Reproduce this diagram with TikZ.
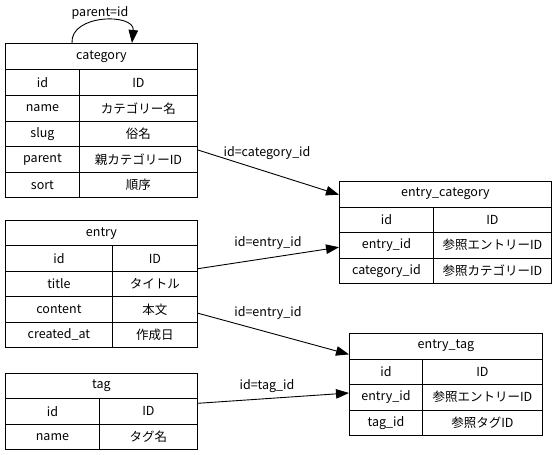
\documentclass[tikz,border=0pt]{standalone}
\usepackage{fontspec}
\setmainfont{Noto Sans CJK JP}
\usetikzlibrary{arrows.meta,calc}

\tikzset{
  cell/.style={draw, line width=0.9pt, inner sep=0pt, anchor=north west,
    font=\fontsize{12.5}{14}\selectfont},
  rel/.style={line width=0.9pt, -{Triangle[length=13pt,width=9.5pt]}},
  rellabel/.style={font=\fontsize{12.5}{14}\selectfont, inner sep=0pt}
}

% header cell: name, x, y, width, height, text
\newcommand\tblhead[6]{%
  \node[cell, minimum width=#4pt, minimum height=#5pt] (#1) at (#2,#3) {#6};}
% field row: prefix, x, y, left width, right width, height, field, type
\newcommand\tblrow[8]{%
  \node[cell, minimum width=#4pt, minimum height=#6pt] (#1k) at (#2,#3) {#7};
  \node[cell, minimum width=#5pt, minimum height=#6pt] (#1v) at (#2+#4,#3) {#8};}

\begin{document}
\begin{tikzpicture}[x=1pt,y=-1pt]
\useasboundingbox (0,0) rectangle (557,455);

% category
\tblhead{cathead}{5}{43}{192}{26}{category}
\tblrow{catid}{5}{69}{74}{118}{26}{id}{ID}
\tblrow{catname}{5}{95}{74}{118}{25.5}{name}{カテゴリー名}
\tblrow{catslug}{5}{120.5}{74}{118}{25.5}{slug}{俗名}
\tblrow{catparent}{5}{146}{74}{118}{26}{parent}{親カテゴリーID}
\tblrow{catsort}{5}{172}{74}{118}{25}{sort}{順序}

% entry
\tblhead{enthead}{5}{220}{192}{25.4}{entry}
\tblrow{entid}{5}{245.4}{107}{85}{25.4}{id}{ID}
\tblrow{enttitle}{5}{270.8}{107}{85}{25.4}{title}{タイトル}
\tblrow{entcontent}{5}{296.2}{107}{85}{25.4}{content}{本文}
\tblrow{entcreated}{5}{321.6}{107}{85}{25.4}{created\_at}{作成日}

% tag
\tblhead{taghead}{5}{373}{192}{25.3}{tag}
\tblrow{tagid}{5}{398.3}{94}{98}{25.3}{id}{ID}
\tblrow{tagname}{5}{423.6}{94}{98}{25.4}{name}{タグ名}

% entry_category
\tblhead{echead}{339}{181}{212}{25.5}{entry\_category}
\tblrow{ecid}{339}{206.5}{94}{118}{25.5}{id}{ID}
\tblrow{ecentry}{339}{232}{94}{118}{25.5}{entry\_id}{参照エントリーID}
\tblrow{eccat}{339}{257.5}{94}{118}{25.5}{category\_id}{参照カテゴリーID}

% entry_tag
\tblhead{ethead}{349}{333}{193}{25.5}{entry\_tag}
\tblrow{etid}{349}{358.5}{73}{120}{25.5}{id}{ID}
\tblrow{etentry}{349}{384}{73}{120}{25.5}{entry\_id}{参照エントリーID}
\tblrow{ettag}{349}{409.5}{73}{120}{25.5}{tag\_id}{参照タグID}

% self reference of category
\draw[rel] ($(cathead.north west)+(67,0)$)
  .. controls ($(cathead.north west)+(65,-29)$) and ($(cathead.north west)+(130,-30)$)
  .. ($(cathead.north west)+(127,0)$);
\node[rellabel] (lblparent) at (100,13) {parent=id};

% relations
\draw[rel] ($(catparentv.north east)+(0,4)$) -- ($(echead.west)+(0,0.5)$);
\node[rellabel] (lblcat) at (267,153) {id=category\_id};

\draw[rel] ($(entidv.south east)+(0,-3)$) -- ($(ecentryk.west)+(0,2)$);
\node[rellabel] (lblent1) at (268,243) {id=entry\_id};

\draw[rel] ($(entcontentv.north east)+(0,17)$) -- ($(ethead.south west)+(0,-5)$);
\node[rellabel] (lblent2) at (268,313) {id=entry\_id};

\draw[rel] ($(tagidv.north east)+(0,5)$) -- ($(etentryk.north west)+(0,9)$);
\node[rellabel] (lbltag) at (267,386) {id=tag\_id};

\end{tikzpicture}
\end{document}
